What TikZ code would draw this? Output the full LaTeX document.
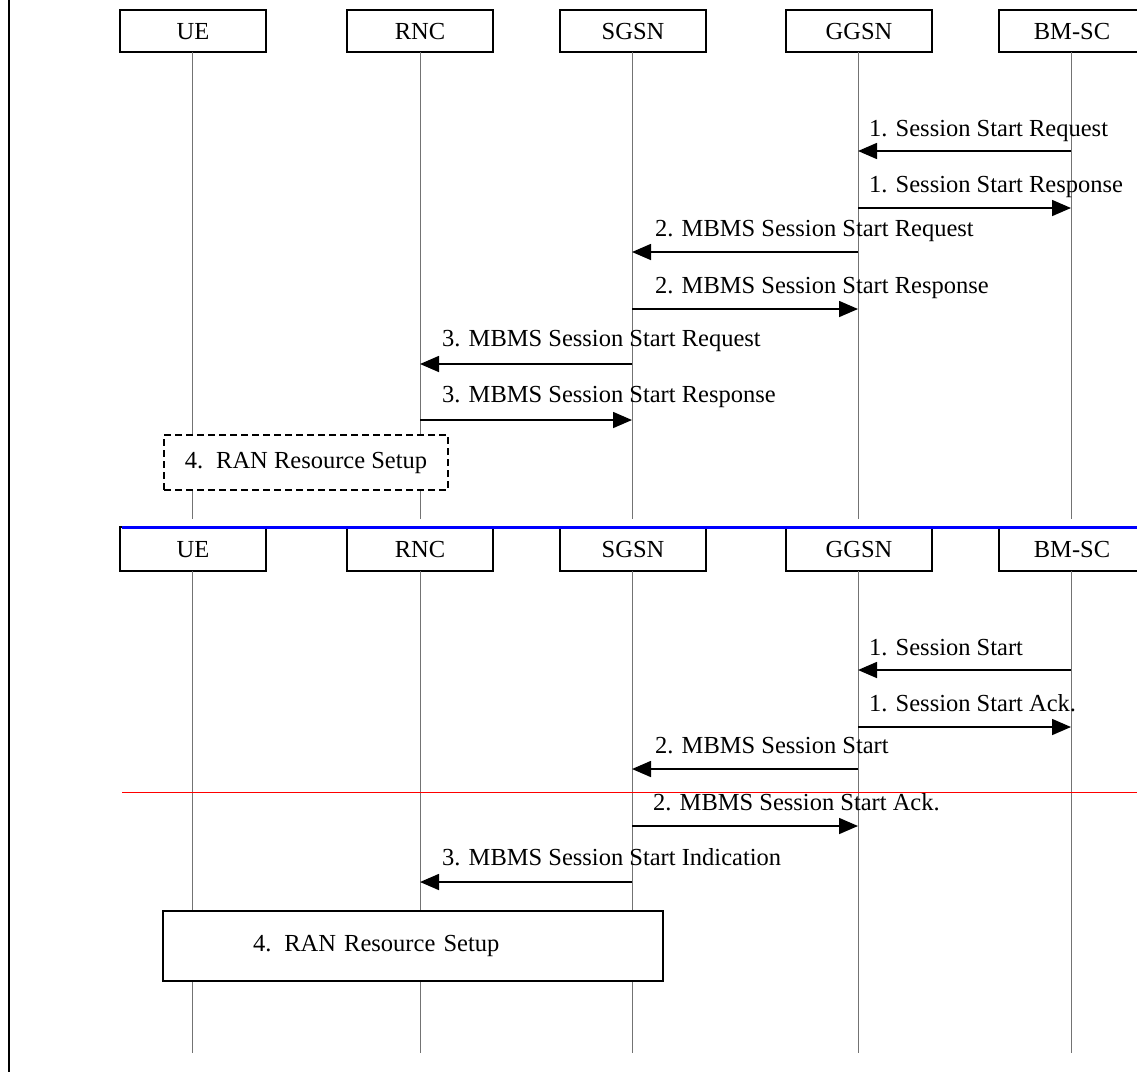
\documentclass[tikz,border=0pt]{standalone}
\usepackage{fontspec}
\setmainfont{Liberation Serif}
\usetikzlibrary{arrows.meta}
\begin{document}
\begin{tikzpicture}[x=1pt,y=-1pt,
  every node/.style={font=\fontsize{24.5pt}{29pt}\selectfont},
  entity/.style={draw, line width=1.3pt, fill=white, minimum width=146pt,
    minimum height=42pt, inner sep=0pt, text height=16pt, text depth=0pt},
  entitylow/.style={entity, minimum height=44pt},
  lifeline/.style={draw=black!55, line width=1pt},
  msg/.style={line width=1.6pt, -{Triangle[length=19pt,width=16pt]}},
  msglabel/.style={anchor=base west, inner sep=0pt},
  phasebox/.style={draw, line width=1.3pt, fill=white},
]
\useasboundingbox (0,0) rectangle (1137,1072);
\clip (0,0) rectangle (1137,1072);

% left margin rule
\draw[line width=2.5pt] (9,0) -- (9,1072);

% ---------- upper chart ----------
\node[entity] (ue)  at (193,31)  {UE};
\node[entity] (rnc) at (420,31)  {RNC};
\node[entity] (sg)  at (633,31)  {SGSN};
\node[entity] (gg)  at (859,31)  {GGSN};
\node[entity] (bm)  at (1072,31) {BM-SC};

\coordinate (ueE)  at (192,519);
\coordinate (rncE) at (420,519);
\coordinate (sgE)  at (632,519);
\coordinate (ggE)  at (858,519);
\coordinate (bmE)  at (1071,519);

\draw[lifeline] (192,52) -- (ueE);
\draw[lifeline] (420,52) -- (rncE);
\draw[lifeline] (632,52) -- (sgE);
\draw[lifeline] (858,52) -- (ggE);
\draw[lifeline] (1071,52) -- (bmE);

\draw[msg] (bmE |- 0,151) -- (ggE |- 0,151);
\node[msglabel] (a1) at (869,136) {1. Session Start Request};
\draw[msg] (ggE |- 0,208) -- (bmE |- 0,208);
\node[msglabel] (a2) at (869,192) {1. Session Start Response};
\draw[msg] (ggE |- 0,252) -- (sgE |- 0,252);
\node[msglabel] (a3) at (655,236) {2. MBMS Session Start Request};
\draw[msg] (sgE |- 0,309) -- (ggE |- 0,309);
\node[msglabel] (a4) at (655,293) {2. MBMS Session Start Response};
\draw[msg] (sgE |- 0,364) -- (rncE |- 0,364);
\node[msglabel] (a5) at (442,346) {3. MBMS Session Start Request};
\draw[msg] (rncE |- 0,420) -- (sgE |- 0,420);
\node[msglabel] (a6) at (442,402) {3. MBMS Session Start Response};

\node[phasebox, dashed, dash pattern=on 7pt off 4pt, minimum width=284pt,
  minimum height=55pt] (ran1) at (306,462.5) {4.\hspace{13pt}RAN Resource Setup};

% ---------- lower chart ----------
\node[entitylow] (ue2)  at (193,549)  {UE};
\node[entitylow] (rnc2) at (420,549)  {RNC};
\node[entitylow] (sg2)  at (633,549)  {SGSN};
\node[entitylow] (gg2)  at (859,549)  {GGSN};
\node[entitylow] (bm2)  at (1072,549) {BM-SC};

\coordinate (ueF)  at (192,1053);
\coordinate (rncF) at (420,1053);
\coordinate (sgF)  at (632,1053);
\coordinate (ggF)  at (858,1053);
\coordinate (bmF)  at (1071,1053);

\draw[lifeline] (192,571) -- (ueF);
\draw[lifeline] (420,571) -- (rncF);
\draw[lifeline] (632,571) -- (sgF);
\draw[lifeline] (858,571) -- (ggF);
\draw[lifeline] (1071,571) -- (bmF);

\draw[msg] (bmF |- 0,670) -- (ggF |- 0,670);
\node[msglabel] (b1) at (869,655) {1. Session Start};
\draw[msg] (ggF |- 0,727) -- (bmF |- 0,727);
\node[msglabel] (b2) at (869,711) {1. Session Start Ack.};
\draw[msg] (ggF |- 0,769) -- (sgF |- 0,769);
\node[msglabel] (b3) at (655,753) {2. MBMS Session Start};
\draw[msg] (sgF |- 0,826) -- (ggF |- 0,826);
\node[msglabel] (b4) at (653,810) {2. MBMS Session Start Ack.};
\draw[msg] (sgF |- 0,882) -- (rncF |- 0,882);
\node[msglabel] (b5) at (442,865) {3. MBMS Session Start Indication};

\node[phasebox, minimum height=70pt, text width=320pt, inner xsep=90pt,
  align=left] (ran2) at (413,946) {4.\hspace{13pt}RAN Resource Setup};

% separators
\draw[blue, line width=3pt] (122,527) -- (1137,527);
\draw[red, line width=1pt] (122,792) -- (1137,792);
\end{tikzpicture}
\end{document}
